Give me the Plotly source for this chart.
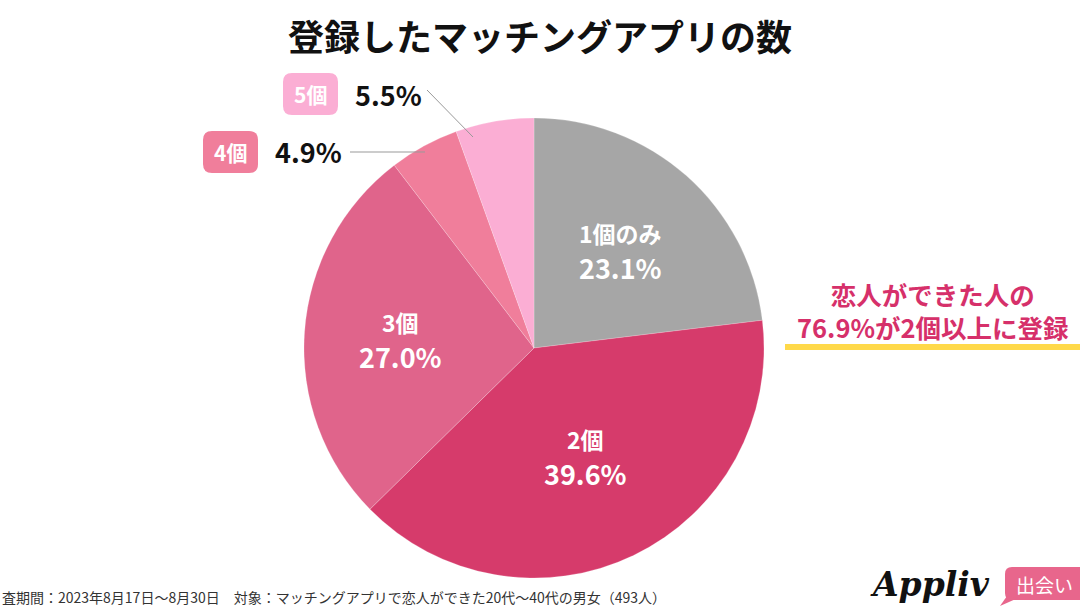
import math
import plotly.graph_objects as go

# Data
labels = ["1個のみ", "2個", "3個", "4個", "5個"]
values = [23.1, 39.6, 27.0, 4.9, 5.5]
colors = ["#A6A6A6", "#D63B6B", "#E0648B", "#F07E9B", "#FBAED4"]

title_text = "登録したマッチングアプリの数"
callout_lines = ["恋人ができた人の", "76.9%が2個以上に登録"]
footer_text = "査期間：2023年8月17日〜8月30日　対象：マッチングアプリで恋人ができた20代〜40代の男女（493人）"

W, H = 1080, 607
FONT = "Noto Sans CJK JP"

# pie geometry in pixels
cx, cy, rad = 534, 348, 230
# how far out (fraction of radius) each inside label sits
label_r = {"1個のみ": 0.57, "2個": 0.52, "3個": 0.58}


def px(x):
    return x / W


def py(y):
    return 1 - y / H


def rounded_rect(x0, y0, x1, y1, r):
    pts = [
        f"M {px(x0 + r)},{py(y0)}",
        f"L {px(x1 - r)},{py(y0)}",
        f"Q {px(x1)},{py(y0)} {px(x1)},{py(y0 + r)}",
        f"L {px(x1)},{py(y1 - r)}",
        f"Q {px(x1)},{py(y1)} {px(x1 - r)},{py(y1)}",
        f"L {px(x0 + r)},{py(y1)}",
        f"Q {px(x0)},{py(y1)} {px(x0)},{py(y1 - r)}",
        f"L {px(x0)},{py(y0 + r)}",
        f"Q {px(x0)},{py(y0)} {px(x0 + r)},{py(y0)}",
        "Z",
    ]
    return " ".join(pts)


def note(x, y, text, size, color, xanchor="center", family=FONT):
    return dict(x=px(x), y=py(y), xref="paper", yref="paper", text=text,
                showarrow=False, xanchor=xanchor, yanchor="middle",
                font=dict(family=family, size=size, color=color))


fig = go.Figure()

fig.add_trace(go.Pie(
    labels=labels,
    values=values,
    marker=dict(colors=colors, line=dict(color="rgba(255,255,255,0.4)", width=0.5)),
    sort=False,
    direction="clockwise",
    rotation=0,
    textinfo="none",
    hoverinfo="label+percent",
    showlegend=False,
    domain=dict(x=[px(cx - rad), px(cx + rad)], y=[py(cy + rad), py(cy - rad)]),
))

annotations = []
shapes = []

# title
annotations.append(note(540, 35, f"<b>{title_text}</b>", 36, "#111111"))

# inside labels, positioned on the slice mid-angle
total = sum(values)
cum = 0
for lab, val in zip(labels, values):
    mid = (cum + val / 2) / total * 2 * math.pi
    cum += val
    if lab not in label_r:
        continue
    r = rad * label_r[lab]
    lx = cx + r * math.sin(mid)
    ly = cy - r * math.cos(mid)
    annotations.append(note(lx, ly - 17, f"<b>{lab}</b>", 23, "white"))
    annotations.append(note(lx, ly + 18, f"<b>{val:.1f}%</b>", 27, "white"))

# outside labels for small slices
outside = {
    "5個": dict(badge=(283, 73, 338, 115), pct_x=388, pct_y=94, line=((427, 90), (473, 137))),
    "4個": dict(badge=(203, 131, 258, 173), pct_x=308, pct_y=152, line=((350, 152), (425, 152))),
}
for lab, val, col in zip(labels, values, colors):
    if lab not in outside:
        continue
    o = outside[lab]
    x0, y0, x1, y1 = o["badge"]
    shapes.append(dict(type="path", xref="paper", yref="paper",
                       path=rounded_rect(x0, y0, x1, y1, 9),
                       fillcolor=col, line=dict(width=0)))
    annotations.append(note((x0 + x1) / 2, (y0 + y1) / 2, f"<b>{lab}</b>", 21, "white"))
    annotations.append(note(o["pct_x"], o["pct_y"], f"<b>{val:.1f}%</b>", 27, "#111111"))
    (ax, ay), (bx, by) = o["line"]
    shapes.append(dict(type="line", xref="paper", yref="paper",
                       x0=px(ax), y0=py(ay), x1=px(bx), y1=py(by),
                       line=dict(color="#999999", width=1)))

# right callout
annotations.append(note(933, 310, "<br>".join(f"<b>{t}</b>" for t in callout_lines),
                        25.5, "#D6306A"))
shapes.append(dict(type="rect", xref="paper", yref="paper",
                   x0=px(785), x1=px(1082), y0=py(350), y1=py(344),
                   fillcolor="#FFD94A", line=dict(width=0)))

# footer
annotations.append(note(0, 597, footer_text, 14, "#333333", xanchor="left"))

# logo
annotations.append(note(930, 584, "<b><i>Appliv</i></b>", 33, "#111111", family="DejaVu Serif"))
shapes.append(dict(type="path", xref="paper", yref="paper",
                   path=rounded_rect(1005, 567, 1095, 600, 7),
                   fillcolor="#E8668C", line=dict(width=0)))
shapes.append(dict(type="path", xref="paper", yref="paper",
                   path=f"M {px(1007)},{py(596)} L {px(1000)},{py(606)} L {px(1018)},{py(598)} Z",
                   fillcolor="#E8668C", line=dict(width=0)))
annotations.append(note(1014, 584, "出会い", 19, "white", xanchor="left"))

fig.update_layout(
    width=W, height=H,
    margin=dict(l=0, r=0, t=0, b=0),
    paper_bgcolor="white",
    plot_bgcolor="white",
    annotations=annotations,
    shapes=shapes,
    font=dict(family=FONT),
)

fig.write_html("out.html", config={"displayModeBar": False},
               post_script="document.body.style.margin='0';")
